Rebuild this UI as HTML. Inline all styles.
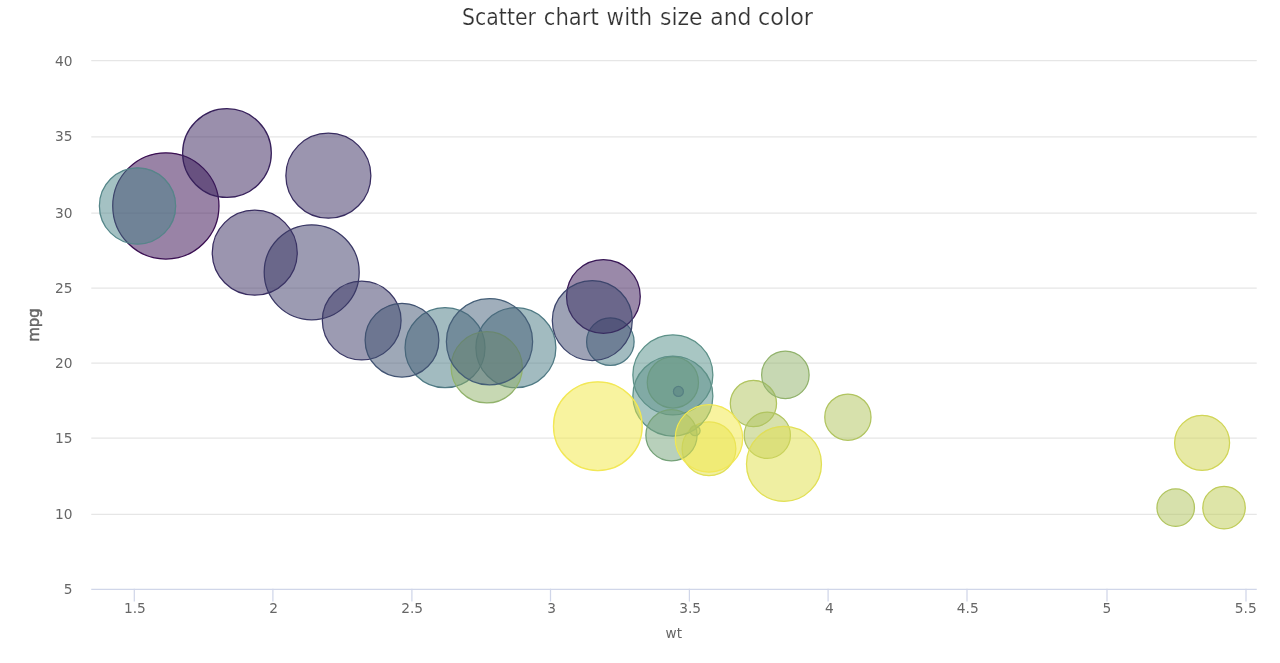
<!DOCTYPE html>
<html lang="en">
<head>
<meta charset="utf-8">
<title>Scatter chart with size and color</title>
<style>
html,body{margin:0;padding:0;background:#fff;}
body{width:1280px;height:663px;overflow:hidden;font-family:"DejaVu Sans", "Liberation Sans", sans-serif;}
svg{display:block;position:absolute;left:0;top:0;}
svg text{font-family:"DejaVu Sans", "Liberation Sans", sans-serif;}
.lbl{font-size:13.75px;fill:#666666;}
.ttl{font-size:22.5px;fill:#333333;stroke:#ffffff;stroke-width:0.22px;}
.axt{font-size:15px;fill:#666666;}
</style>
</head>
<body>
<svg width="1280" height="663" viewBox="0 0 1280 663">
<defs>
<filter id="p3" x="0" y="0" width="1280" height="663" filterUnits="userSpaceOnUse" color-interpolation-filters="linearRGB">
<feColorMatrix type="matrix" values="0.6647 0.2964 0.0389 0 0  0.0622 0.9275 0.0103 0 0  0.0148 0.0792 0.9060 0 0  0 0 0 1 0"/>
</filter>
</defs>
<g filter="url(#p3)">
<rect x="0" y="0" width="1280" height="663" fill="#ffffff"/>
<g stroke="#e6e6e6" stroke-width="1.25" fill="none">
<path d="M 91.25 60.625 L 1256.75 60.625"/>
<path d="M 91.25 136.875 L 1256.75 136.875"/>
<path d="M 91.25 213.125 L 1256.75 213.125"/>
<path d="M 91.25 288.125 L 1256.75 288.125"/>
<path d="M 91.25 363.125 L 1256.75 363.125"/>
<path d="M 91.25 438.125 L 1256.75 438.125"/>
<path d="M 91.25 514.375 L 1256.75 514.375"/>
</g>
<g stroke="#ccd6eb" stroke-width="1.25" fill="none">
<path d="M 91.25 589.375 L 1256.75 589.375"/>
<path d="M 134.30 588.75 L 134.30 601.50"/>
<path d="M 272.90 588.75 L 272.90 601.50"/>
<path d="M 411.90 588.75 L 411.90 601.50"/>
<path d="M 550.50 588.75 L 550.50 601.50"/>
<path d="M 689.40 588.75 L 689.40 601.50"/>
<path d="M 828.10 588.75 L 828.10 601.50"/>
<path d="M 967.00 588.75 L 967.00 601.50"/>
<path d="M 1107.00 588.75 L 1107.00 601.50"/>
<path d="M 1246.00 588.75 L 1246.00 601.50"/>
</g>
<g stroke-width="1.25" fill-opacity="0.5">
<circle cx="445.05" cy="347.73" r="40.000" fill="#267c84" stroke="#267c84"/>
<circle cx="515.89" cy="347.73" r="40.000" fill="#267c84" stroke="#267c84"/>
<circle cx="361.71" cy="320.57" r="39.375" fill="#373769" stroke="#373769"/>
<circle cx="610.35" cy="341.69" r="23.750" fill="#267c84" stroke="#267c84"/>
<circle cx="672.86" cy="382.43" r="25.625" fill="#7fb560" stroke="#7fb560"/>
<circle cx="678.41" cy="391.48" r="5.000" fill="#305374" stroke="#305374"/>
<circle cx="708.97" cy="448.81" r="26.875" fill="#e8df2f" stroke="#e8df2f"/>
<circle cx="603.40" cy="296.43" r="36.875" fill="#410f59" stroke="#410f59"/>
<circle cx="592.29" cy="320.57" r="40.000" fill="#33456f" stroke="#33456f"/>
<circle cx="672.86" cy="374.88" r="40.000" fill="#2b9487" stroke="#2b9487"/>
<circle cx="672.86" cy="396.00" r="40.000" fill="#2b9487" stroke="#2b9487"/>
<circle cx="847.88" cy="417.13" r="23.125" fill="#a9c64c" stroke="#a9c64c"/>
<circle cx="753.42" cy="403.55" r="23.125" fill="#a9c64c" stroke="#a9c64c"/>
<circle cx="767.31" cy="435.23" r="23.125" fill="#a9c64c" stroke="#a9c64c"/>
<circle cx="1175.70" cy="507.65" r="18.750" fill="#a9c64c" stroke="#a9c64c"/>
<circle cx="1224.04" cy="507.65" r="21.250" fill="#bece42" stroke="#bece42"/>
<circle cx="1202.09" cy="442.78" r="27.500" fill="#d3d639" stroke="#d3d639"/>
<circle cx="328.37" cy="175.73" r="42.500" fill="#3a2a64" stroke="#3a2a64"/>
<circle cx="165.85" cy="205.90" r="53.125" fill="#440154" stroke="#440154"/>
<circle cx="226.97" cy="153.10" r="44.375" fill="#3d1c5f" stroke="#3d1c5f"/>
<circle cx="401.99" cy="340.18" r="36.875" fill="#305374" stroke="#305374"/>
<circle cx="695.08" cy="430.71" r="5.000" fill="#55a573" stroke="#55a573"/>
<circle cx="671.47" cy="435.23" r="25.625" fill="#55a573" stroke="#55a573"/>
<circle cx="783.98" cy="463.90" r="37.500" fill="#e8df2f" stroke="#e8df2f"/>
<circle cx="785.37" cy="374.88" r="23.750" fill="#7fb560" stroke="#7fb560"/>
<circle cx="254.75" cy="252.67" r="42.500" fill="#3a2a64" stroke="#3a2a64"/>
<circle cx="311.70" cy="272.29" r="47.500" fill="#373769" stroke="#373769"/>
<circle cx="137.51" cy="205.90" r="38.125" fill="#238989" stroke="#238989"/>
<circle cx="597.85" cy="426.18" r="44.375" fill="#fde725" stroke="#fde725"/>
<circle cx="486.72" cy="367.34" r="35.625" fill="#7fb560" stroke="#7fb560"/>
<circle cx="708.97" cy="438.25" r="33.750" fill="#fde725" stroke="#fde725"/>
<circle cx="489.50" cy="341.69" r="43.125" fill="#2d6079" stroke="#2d6079"/>
</g>
</g>
<text class="ttl" y="25"><tspan x="462.0" textLength="74.0" lengthAdjust="spacingAndGlyphs">Scatter</tspan> <tspan x="543.8" textLength="55.0" lengthAdjust="spacingAndGlyphs">chart</tspan> <tspan x="606.6" textLength="45.6" lengthAdjust="spacingAndGlyphs">with</tspan> <tspan x="660.0" textLength="42.6" lengthAdjust="spacingAndGlyphs">size</tspan> <tspan x="710.3" textLength="41.2" lengthAdjust="spacingAndGlyphs">and</tspan> <tspan x="758.0" textLength="55.0" lengthAdjust="spacingAndGlyphs">color</tspan></text>
<g class="lbl" text-anchor="end">
<text x="72.5" y="66.1">40</text>
<text x="72.5" y="141.1">35</text>
<text x="72.5" y="218.1">30</text>
<text x="72.5" y="293.1">25</text>
<text x="72.5" y="368.1">20</text>
<text x="72.5" y="443.1">15</text>
<text x="72.5" y="519.1">10</text>
<text x="72.5" y="594.1">5</text>
</g>
<g class="lbl" text-anchor="middle">
<text x="134.88" y="612.8">1.5</text>
<text x="273.73" y="612.8">2</text>
<text x="412.18" y="612.8">2.5</text>
<text x="551.52" y="612.8">3</text>
<text x="690.17" y="612.8">3.5</text>
<text x="829.33" y="612.8">4</text>
<text x="967.77" y="612.8">4.5</text>
<text x="1106.97" y="612.8">5</text>
<text x="1245.72" y="612.8">5.5</text>
</g>
<text class="axt" x="665.6" y="637.9" style="font-size:14.5px" textLength="16.4" lengthAdjust="spacingAndGlyphs">wt</text>
<text class="axt" x="38.5" y="325" text-anchor="middle" transform="rotate(-90 38.5 325)" stroke="#666666" stroke-width="0.45">mpg</text>
</svg>
</body>
</html>
